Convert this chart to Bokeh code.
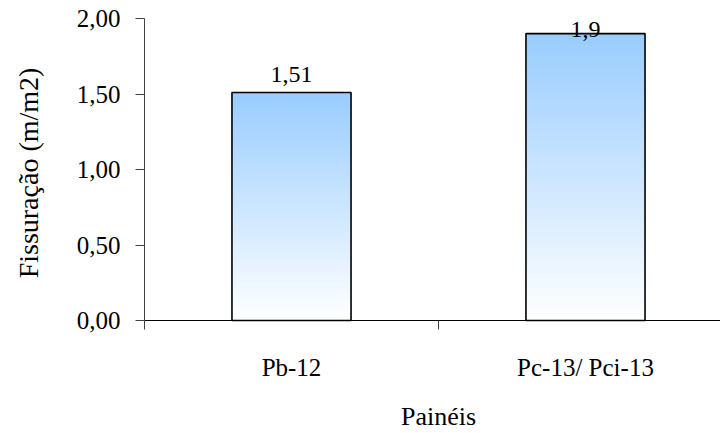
import math
from bokeh.plotting import figure
from bokeh.models import Range1d, FixedTicker
from bokeh.embed import file_html
from bokeh.resources import INLINE
from bokeh.core.properties import value

# ---- data ----
categories = ["Pb-12", "Pc-13/ Pci-13"]
values = [1.51, 1.9]
value_labels = ["1,51", "1,9"]
y_ticks = [0.0, 0.5, 1.0, 1.5, 2.0]
y_tick_labels = ["0,00", "0,50", "1,00", "1,50", "2,00"]
y_title = "Fissuração  (m/m2)"
x_title = "Painéis"

FONT = "Liberation Serif"
TOP_RGB = (153, 204, 255)
BAR_W = 0.405
PX = 151.0   # pixels per unit on the y axis
PXX = 294.0  # pixels per category on the x axis

xc = [i + 0.5 for i in range(len(categories))]
bounds_x = [float(i) for i in range(len(categories) + 1)]
x_end = 576 / PXX

p = figure(width=720, height=433,
           x_range=Range1d(-144 / PXX, x_end), y_range=Range1d(-113 / PX, 320 / PX),
           output_backend="svg", toolbar_location=None,
           min_border=0, min_border_left=0, min_border_right=0,
           min_border_top=0, min_border_bottom=0)
p.outline_line_color = None
p.xgrid.visible = False
p.ygrid.visible = False
p.background_fill_color = "white"
p.border_fill_color = "white"

# gradient bars built from slices
N = 90
for x, v in zip(xc, values):
    bottoms, tops, colors = [], [], []
    for i in range(N):
        t = (i + 0.5) / N
        r = int(round(255 + (TOP_RGB[0] - 255) * t))
        g = int(round(255 + (TOP_RGB[1] - 255) * t))
        b = int(round(255 + (TOP_RGB[2] - 255) * t))
        bottoms.append(v * i / N)
        tops.append(min(v, v * (i + 1.6) / N))
        colors.append("#%02x%02x%02x" % (r, g, b))
    p.vbar(x=[x] * N, width=BAR_W, bottom=bottoms, top=tops,
           fill_color=colors, line_color=None)

p.vbar(x=xc, width=BAR_W, bottom=0, top=values, fill_color=None,
       line_color="black", line_width=1.6)

offsets = [-18, -4]
for x, v, lab, off in zip(xc, values, value_labels, offsets):
    p.text(x=[x], y=[v], text=[lab], text_align="center",
           text_baseline="alphabetic", y_offset=off,
           text_font=value(FONT), text_font_size="24px", text_color="black")

# y axis (pinned at x = 0)
ya = p.yaxis[0]
ya.fixed_location = 0
ya.bounds = (0, 2)
ya.ticker = FixedTicker(ticks=y_ticks, minor_ticks=[])
ya.major_label_overrides = {t: l for t, l in zip(y_ticks, y_tick_labels)}
ya.major_tick_out = 9
ya.major_tick_in = 0
ya.minor_tick_line_color = None
ya.axis_line_color = "#404040"
ya.major_tick_line_color = "#404040"
ya.major_label_standoff = 15
ya.major_label_text_font = FONT
ya.major_label_text_font_size = "25px"
ya.major_label_text_color = "black"

# x axis (pinned at y = 0)
xa = p.xaxis[0]
xa.fixed_location = 0
xa.bounds = (0, x_end)
xa.ticker = FixedTicker(ticks=xc, minor_ticks=bounds_x)
xa.major_label_overrides = {x: c for x, c in zip(xc, categories)}
xa.major_tick_out = 0
xa.major_tick_in = 0
xa.minor_tick_out = 9
xa.minor_tick_in = 0
xa.minor_tick_line_color = "#404040"
xa.axis_line_color = "black"
xa.major_label_standoff = 24
xa.major_label_text_font = FONT
xa.major_label_text_font_size = "25px"
xa.major_label_text_color = "black"

# axis titles
p.text(x=[-116 / PXX], y=[(y_ticks[0] + y_ticks[-1]) / 2], text=[y_title],
       angle=math.pi / 2, text_align="center", text_baseline="middle",
       text_font=value(FONT), text_font_size="28px", text_color="black")
p.text(x=[1.0], y=[-96 / PX], text=[x_title],
       text_align="center", text_baseline="middle",
       text_font=value(FONT), text_font_size="26px", text_color="black")

open("out.html", "w").write(file_html(p, INLINE))
